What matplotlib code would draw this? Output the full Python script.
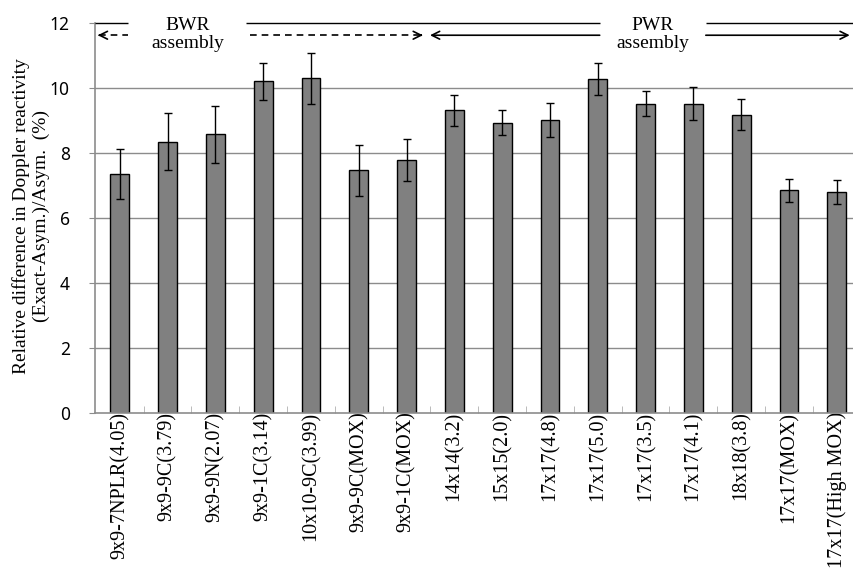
import matplotlib
matplotlib.use("Agg")
import matplotlib.pyplot as plt

# Assembly types and Doppler reactivity difference (%)
assemblies = [
    "9x9-7NPLR(4.05)", "9x9-9C(3.79)", "9x9-9N(2.07)", "9x9-1C(3.14)",
    "10x10-9C(3.99)", "9x9-9C(MOX)", "9x9-1C(MOX)", "14x14(3.2)",
    "15x15(2.0)", "17x17(4.8)", "17x17(5.0)", "17x17(3.5)",
    "17x17(4.1)", "18x18(3.8)", "17x17(MOX)", "17x17(High MOX)",
]
rel_diff = [7.35, 8.35, 8.57, 10.2, 10.3, 7.46, 7.79, 9.31,
            8.93, 9.02, 10.27, 9.52, 9.52, 9.18, 6.85, 6.80]
err = [0.77, 0.89, 0.87, 0.58, 0.78, 0.77, 0.64, 0.48,
       0.39, 0.53, 0.50, 0.39, 0.50, 0.48, 0.36, 0.36]
yticks = [0, 2, 4, 6, 8, 10, 12]

serif = "Liberation Serif"
sans = "Noto Sans"

fig = plt.figure(figsize=(8.54, 5.72), dpi=100)
ax = fig.add_axes([0.111, 0.278, 0.889, 0.682])

x = list(range(len(assemblies)))

# grid lines behind bars
for v in yticks[1:-1]:
    ax.axhline(v, color="#8c8c8c", lw=1, zorder=0)

ax.bar(x, rel_diff, width=0.39, color="#808080", edgecolor="black",
       linewidth=1, zorder=2)
ax.errorbar(x, rel_diff, yerr=err, fmt="none", ecolor="black",
            elinewidth=1, capsize=3, capthick=1, zorder=3)

ax.set_xlim(-0.523, 15.36)
ax.set_ylim(0, 12)

ax.set_yticks(yticks)
ax.set_yticklabels([str(v) for v in yticks], fontfamily=sans, fontsize=12.5)
ax.tick_params(axis="y", direction="out", length=4, color="#8c8c8c", pad=14)

ax.set_xticks(x)
ax.set_xticklabels(assemblies, rotation=90, fontfamily=serif, fontsize=14.5)
ax.tick_params(axis="x", length=0, pad=-1)
ax.set_xticks([i + 0.5 for i in x[:-1]], minor=True)
ax.tick_params(axis="x", which="minor", direction="in", length=5,
               color="#b0b0b0")

for side in ["top", "right"]:
    ax.spines[side].set_visible(False)
for side in ["left", "bottom"]:
    ax.spines[side].set_color("#8c8c8c")
    ax.spines[side].set_linewidth(1.2)

fig.text(31 / 854, 1 - 216 / 572,
         "Relative difference in Doppler reactivity\n"
         "(Exact-Asym.)/Asym.  (%)",
         rotation=90, ha="center", va="center",
         fontfamily=serif, fontsize=14, linespacing=1.15)

# top annotation: black line at 12 with gaps for the labels
y_top = 12
y_arr = 11.62
ax.hlines(y_top, -0.523, 0.17, color="black", lw=1, zorder=4, clip_on=False)
ax.hlines(y_top, 2.65, 10.04, color="black", lw=1, zorder=4, clip_on=False)
ax.hlines(y_top, 12.26, 15.36, color="black", lw=1, zorder=4, clip_on=False)


def head(xpos, direction):
    ax.annotate("", xy=(xpos, y_arr), xytext=(xpos - 0.05 * direction, y_arr),
                arrowprops=dict(arrowstyle="->", lw=1.2, color="black",
                                shrinkA=0, shrinkB=0,
                                mutation_scale=14))


# BWR dashed arrows
ax.plot([-0.44, 0.17], [y_arr, y_arr], color="black", lw=1.2, ls=(0, (4, 3)))
head(-0.46, -1)
ax.plot([2.72, 6.30], [y_arr, y_arr], color="black", lw=1.2, ls=(0, (4, 3)))
head(6.34, 1)

# PWR solid arrows
ax.annotate("", xy=(6.49, y_arr), xytext=(10.04, y_arr),
            arrowprops=dict(arrowstyle="->", lw=1.2, color="black",
                            shrinkA=0, shrinkB=0, mutation_scale=14))
ax.annotate("", xy=(15.27, y_arr), xytext=(12.26, y_arr),
            arrowprops=dict(arrowstyle="->", lw=1.2, color="black",
                            shrinkA=0, shrinkB=0, mutation_scale=14))

ax.text(1.42, 11.64, "BWR\nassembly", ha="center", va="center",
        fontfamily=serif, fontsize=14, linespacing=1.05)
ax.text(11.15, 11.64, "PWR\nassembly", ha="center", va="center",
        fontfamily=serif, fontsize=14, linespacing=1.05)

fig.savefig("out.png", dpi=100)
